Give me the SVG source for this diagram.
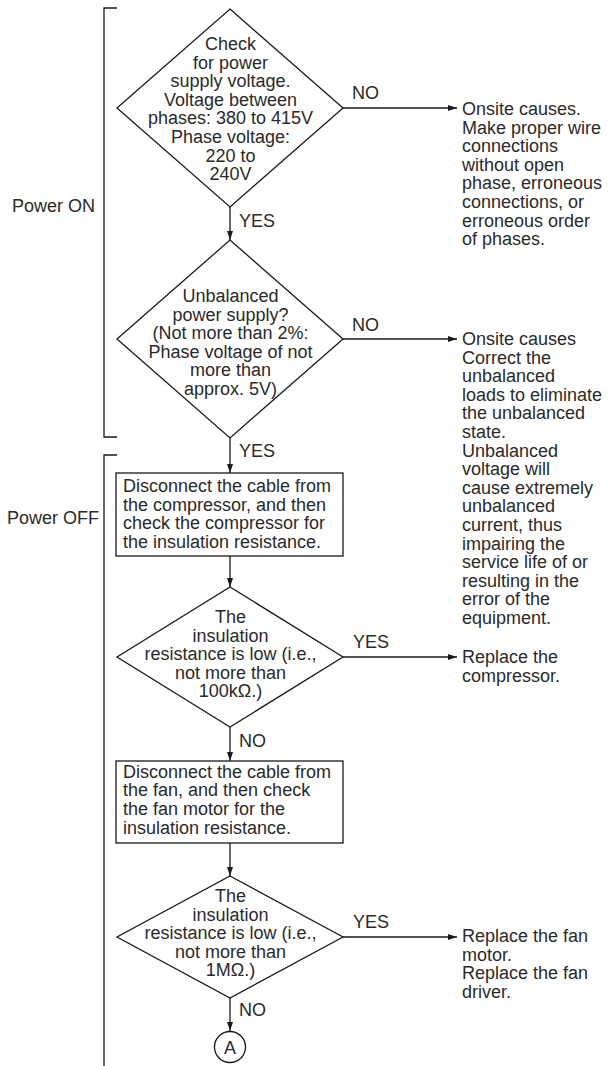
<svg xmlns="http://www.w3.org/2000/svg" width="609" height="1066" viewBox="0 0 609 1066">
<style>
.s{fill:none;stroke:#1a1a1a;stroke-width:1.3}
.n{fill:#fff;stroke:#1a1a1a;stroke-width:1.3}
text{font-family:"Liberation Sans",Arial,Helvetica,sans-serif;font-size:18px;fill:#2a2a2a}
.c{text-anchor:middle}
.c line,.a{fill:none;stroke:#1a1a1a;stroke-width:1.3;marker-end:url(#ah)}
</style>
<defs>
<marker id="ah" markerUnits="userSpaceOnUse" markerWidth="9" markerHeight="6" refX="9" refY="3" orient="auto">
<path d="M0,0 L9,3 L0,6 z" fill="#1a1a1a"/>
</marker>
</defs>
<rect width="609" height="1066" fill="#fff"/>

<g id="brackets">
<path class="s" d="M117,8 H104 V437 H117"/>
<path class="s" d="M117,455 H104 V1066"/>
<text x="12" y="212">Power ON</text>
<text x="7" y="524">Power OFF</text>
</g>

<g id="connectors">
<line class="a" x1="230" y1="207" x2="230" y2="240"/>
<line class="a" x1="343" y1="108" x2="457" y2="108"/>
<line class="a" x1="230" y1="438" x2="230" y2="473"/>
<line class="a" x1="343" y1="339" x2="457" y2="339"/>
<line class="a" x1="230" y1="556" x2="230" y2="587"/>
<line class="a" x1="343" y1="657" x2="457" y2="657"/>
<line class="a" x1="230" y1="727" x2="230" y2="761"/>
<line class="a" x1="230" y1="843" x2="230" y2="876"/>
<line class="a" x1="343" y1="937" x2="457" y2="937"/>
<line class="a" x1="230" y1="998" x2="230" y2="1031"/>
<text x="239" y="227">YES</text>
<text x="352" y="99">NO</text>
<text x="352" y="331">NO</text>
<text x="239" y="457">YES</text>
<text x="353" y="648">YES</text>
<text x="239" y="747">NO</text>
<text x="353" y="928">YES</text>
<text x="239" y="1016">NO</text>
</g>

<g id="d1">
<polygon class="n" points="230,9 343,108 230,207 117,108"/>
<text class="c" x="230.5" y="50">Check</text>
<text class="c" x="230.5" y="68.6">for power</text>
<text class="c" x="230.5" y="87.2">supply voltage.</text>
<text class="c" x="230.5" y="105.8">Voltage between</text>
<text class="c" x="230.5" y="124.4">phases: 380 to 415V</text>
<text class="c" x="230.5" y="143">Phase voltage:</text>
<text class="c" x="230.5" y="161.6">220 to</text>
<text class="c" x="230.5" y="180.2">240V</text>
</g>

<g id="r1">
<text x="462" y="115">Onsite causes.</text>
<text x="462" y="133.6">Make proper wire</text>
<text x="462" y="152.2">connections</text>
<text x="462" y="170.8">without open</text>
<text x="462" y="189.4">phase, erroneous</text>
<text x="462" y="208">connections, or</text>
<text x="462" y="226.6">erroneous order</text>
<text x="462" y="245.2">of phases.</text>
</g>

<g id="d2">
<polygon class="n" points="230,240 343,339 230,438 117,339"/>
<text class="c" x="230.5" y="302">Unbalanced</text>
<text class="c" x="230.5" y="320.6">power supply?</text>
<text class="c" x="230.5" y="339.2">(Not more than 2%:</text>
<text class="c" x="230.5" y="357.8">Phase voltage of not</text>
<text class="c" x="230.5" y="376.4">more than</text>
<text class="c" x="230.5" y="395">approx. 5V)</text>
</g>

<g id="r2">
<text x="462" y="345">Onsite causes</text>
<text x="462" y="363.6">Correct the</text>
<text x="462" y="382.2">unbalanced</text>
<text x="462" y="400.8">loads to eliminate</text>
<text x="462" y="419.4">the unbalanced</text>
<text x="462" y="438">state.</text>
<text x="462" y="456.6">Unbalanced</text>
<text x="462" y="475.2">voltage will</text>
<text x="462" y="493.8">cause extremely</text>
<text x="462" y="512.4">unbalanced</text>
<text x="462" y="531">current, thus</text>
<text x="462" y="549.6">impairing the</text>
<text x="462" y="568.2">service life of or</text>
<text x="462" y="586.8">resulting in the</text>
<text x="462" y="605.4">error of the</text>
<text x="462" y="624">equipment.</text>
</g>

<g id="b1">
<rect class="n" x="116" y="473" width="227" height="83"/>
<text x="123" y="492">Disconnect the cable from</text>
<text x="123" y="510.7">the compressor, and then</text>
<text x="123" y="529.4">check the compressor for</text>
<text x="123" y="548.1">the insulation resistance.</text>
</g>

<g id="d3">
<polygon class="n" points="230,587 343,657 230,727 117,657"/>
<text class="c" x="230.5" y="623">The</text>
<text class="c" x="230.5" y="641.6">insulation</text>
<text class="c" x="230.5" y="660.2">resistance is low (i.e.,</text>
<text class="c" x="230.5" y="678.8">not more than</text>
<text class="c" x="230.5" y="697.4">100kΩ.)</text>
</g>

<g id="r3">
<text x="462" y="663">Replace the</text>
<text x="462" y="681.6">compressor.</text>
</g>

<g id="b2">
<rect class="n" x="116" y="761" width="227" height="82"/>
<text x="123" y="777.5">Disconnect the cable from</text>
<text x="123" y="796.2">the fan, and then check</text>
<text x="123" y="814.9">the fan motor for the</text>
<text x="123" y="833.6">insulation resistance.</text>
</g>

<g id="d4">
<polygon class="n" points="230,876 343,937 230,998 117,937"/>
<text class="c" x="230.5" y="902">The</text>
<text class="c" x="230.5" y="920.6">insulation</text>
<text class="c" x="230.5" y="939.2">resistance is low (i.e.,</text>
<text class="c" x="230.5" y="957.8">not more than</text>
<text class="c" x="230.5" y="976.4">1MΩ.)</text>
</g>

<g id="r4">
<text x="462" y="942">Replace the fan</text>
<text x="462" y="960.6">motor.</text>
<text x="462" y="979.2">Replace the fan</text>
<text x="462" y="997.8">driver.</text>
</g>

<g id="A">
<circle class="n" cx="230" cy="1047" r="15.5"/>
<text class="c" x="230" y="1053.5">A</text>
</g>
</svg>
